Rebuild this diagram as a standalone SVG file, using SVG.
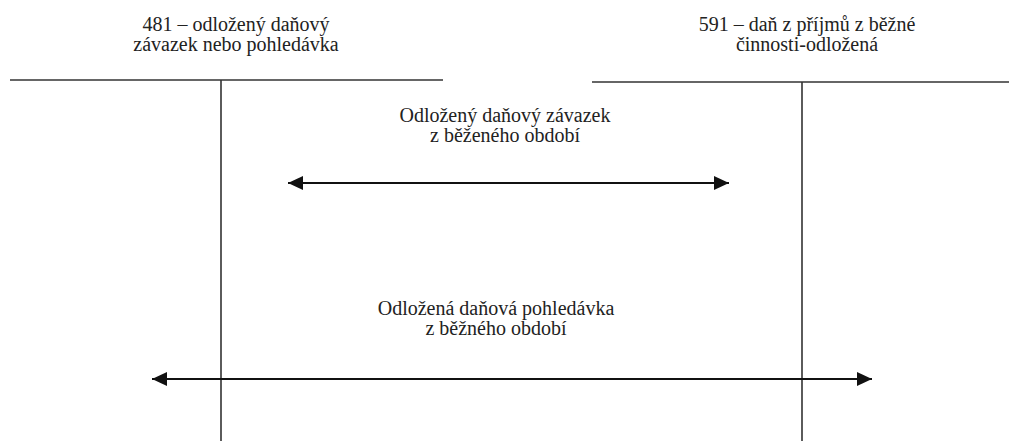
<svg xmlns="http://www.w3.org/2000/svg" width="1009" height="441" viewBox="0 0 1009 441">
<style>
text{font-family:"Liberation Serif",Tinos,"Nimbus Roman","Times New Roman",Times,"DejaVu Serif","Noto Serif",serif;font-size:20px;fill:#222;text-anchor:middle}
.ax{stroke:#333;stroke-width:1.6;fill:none}
.ar{stroke:#111;stroke-width:2;fill:none;marker-start:url(#hs);marker-end:url(#he)}
</style>
<defs>
<marker id="he" markerUnits="userSpaceOnUse" markerWidth="16" markerHeight="14" refX="15" refY="7" orient="auto"><path d="M0,0 L15,7 L0,14 Z" fill="#111"/></marker>
<marker id="hs" markerUnits="userSpaceOnUse" markerWidth="16" markerHeight="14" refX="0" refY="7" orient="auto"><path d="M15,0 L0,7 L15,14 Z" fill="#111"/></marker>
</defs>
<rect width="1009" height="441" fill="#fff"/>
<g id="account-481">
<text x="236" y="31">481 – odložený daňový</text>
<text x="236" y="51">závazek nebo pohledávka</text>
<line class="ax" x1="10" y1="80" x2="443" y2="80"/>
<line class="ax" x1="221" y1="80" x2="221" y2="441"/>
</g>
<g id="account-591">
<text x="807" y="31">591 – daň z příjmů z běžné</text>
<text x="807" y="51">činnosti-odložená</text>
<line class="ax" x1="592" y1="82" x2="1009" y2="82"/>
<line class="ax" x1="802" y1="82" x2="802" y2="441"/>
</g>
<g id="labels">
<text x="505" y="122">Odložený daňový závazek</text>
<text x="505" y="142">z běženého období</text>
<text x="496" y="315">Odložená daňová pohledávka</text>
<text x="496" y="335">z běžného období</text>
</g>
<g id="connectors">
<line class="ar" x1="288" y1="183" x2="729" y2="183"/>
<line class="ar" x1="152" y1="379" x2="872" y2="379"/>
</g>
</svg>
